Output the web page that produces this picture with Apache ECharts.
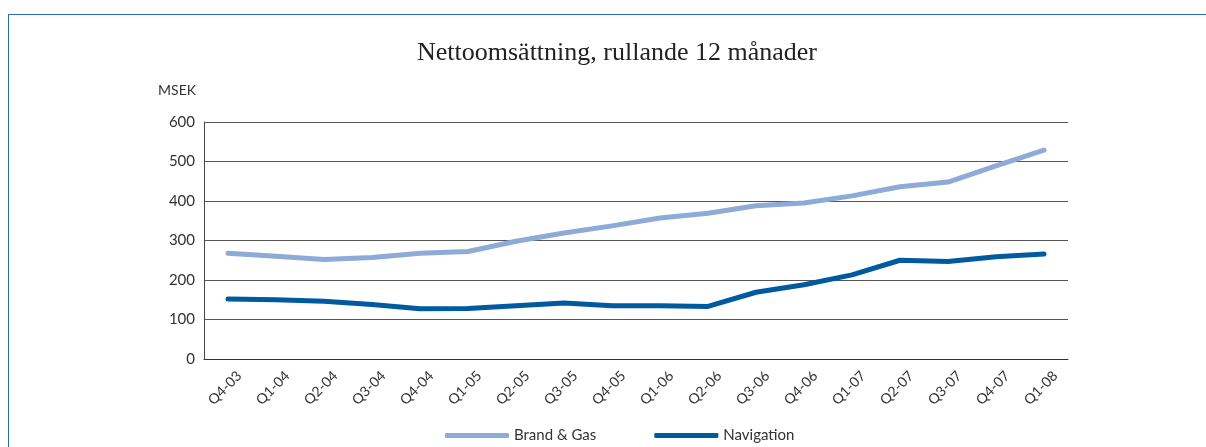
<!DOCTYPE html>
<html>
<head>
<meta charset="utf-8">
<script src="https://cdn.jsdelivr.net/npm/echarts@6/dist/echarts.min.js"></script>
<style>
html,body{margin:0;padding:0;background:#fff;overflow:hidden;}
#frame{position:absolute;left:8px;top:14px;width:1400px;height:800px;border-left:1.5px solid #2f6db2;border-top:1.5px solid #2f6db2;}
#chart{position:absolute;left:0;top:0;width:1206px;height:447px;}
</style>
</head>
<body>
<div id="frame"></div>
<div id="chart"></div>
<script>
const categories = ['Q4-03','Q1-04','Q2-04','Q3-04','Q4-04','Q1-05','Q2-05','Q3-05','Q4-05','Q1-06','Q2-06','Q3-06','Q4-06','Q1-07','Q2-07','Q3-07','Q4-07','Q1-08'];
const brandGas = [268, 260, 252, 257, 268, 272, 298, 319, 337, 357, 369, 388, 395, 413, 436, 448, 489, 529];
const navigation = [152, 150, 146, 138, 127, 128, 135, 142, 135, 135, 133, 169, 188, 213, 250, 247, 259, 266];
const yTicks = [0, 100, 200, 300, 400, 500, 600];

const chart = echarts.init(document.getElementById('chart'), null, {renderer: 'canvas'});
chart.setOption({
  animation: false,
  backgroundColor: 'transparent',
  title: {
    text: 'Nettoomsättning, rullande 12 månader',
    left: 612, top: 35, textAlign: 'center',
    textStyle: {fontFamily: 'Liberation Serif', fontSize: 26, fontWeight: 'normal', color: '#222'}
  },
  grid: {left: 204, right: 138, top: 122, bottom: 88},
  legend: {
    left: 445, top: 428, padding: 0,
    itemWidth: 64, itemHeight: 5, itemGap: 58,
    icon: 'roundRect',
    textStyle: {fontFamily: 'Lato', fontSize: 15, color: '#333'},
    data: ['Brand & Gas', 'Navigation']
  },
  xAxis: {
    type: 'category', data: categories, boundaryGap: true,
    axisLine: {show: true, lineStyle: {color: '#333', width: 1}},
    axisTick: {show: false},
    axisLabel: {interval: 0, rotate: 45, margin: 26, padding: [0, -16, 0, 0],
      fontFamily: 'Lato', fontSize: 14, color: '#333'}
  },
  yAxis: {
    type: 'value', min: yTicks[0], max: yTicks[yTicks.length-1], interval: 100,
    name: 'MSEK', nameLocation: 'end', nameGap: 25,
    nameTextStyle: {fontFamily: 'Lato', fontSize: 14, color: '#333', align: 'right', padding: [0, 8, 0, 0]},
    axisLine: {show: true, lineStyle: {color: '#444', width: 1}},
    axisTick: {show: false},
    axisLabel: {margin: 9, fontFamily: 'Lato', fontSize: 15, color: '#333'},
    splitLine: {show: true, lineStyle: {color: '#555', width: 1}}
  },
  series: [
    {name: 'Brand & Gas', type: 'line', data: brandGas, symbol: 'none', smooth: false,
      color: '#8eaad7', lineStyle: {width: 5, color: '#8eaad7', cap: 'round', join: 'round'}},
    {name: 'Navigation', type: 'line', data: navigation, symbol: 'none', smooth: false,
      color: '#005a9f', lineStyle: {width: 5, color: '#005a9f', cap: 'round', join: 'round'}}
  ]
});
</script>
</body>
</html>
